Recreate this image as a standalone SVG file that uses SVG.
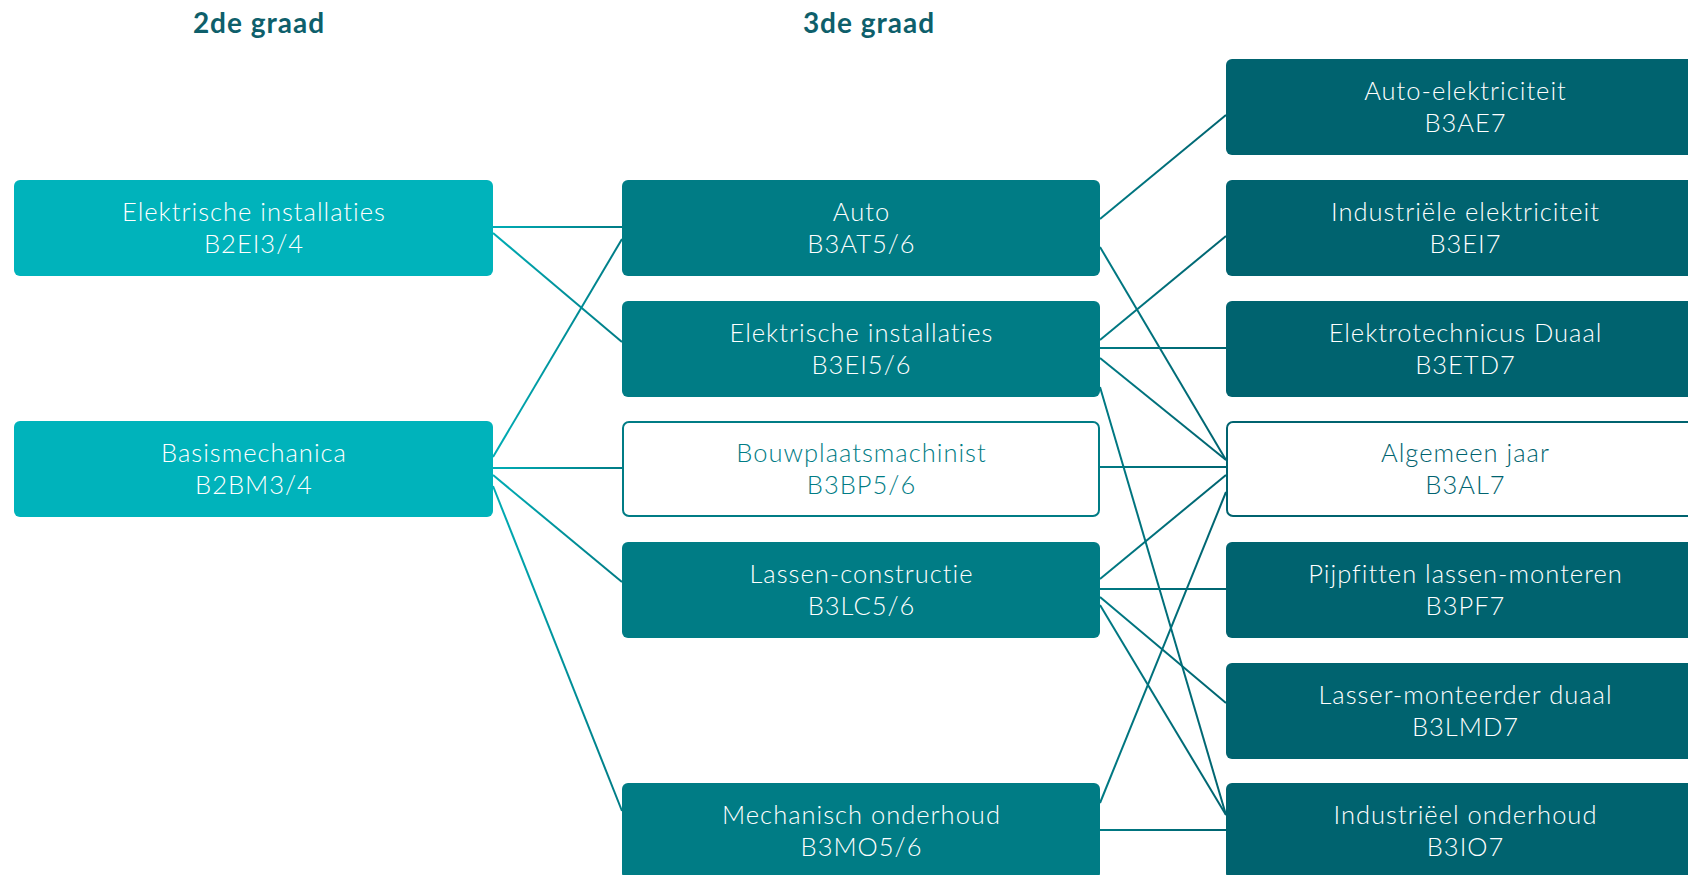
<svg xmlns="http://www.w3.org/2000/svg" width="1688" height="875" viewBox="0 0 1688 875">
<defs>
<linearGradient id="gL" gradientUnits="userSpaceOnUse" x1="493" y1="0" x2="622" y2="0">
<stop offset="0" stop-color="#00adb5"/><stop offset="1" stop-color="#007b85"/>
</linearGradient>
<linearGradient id="gR" gradientUnits="userSpaceOnUse" x1="1100" y1="0" x2="1226" y2="0">
<stop offset="0" stop-color="#007a84"/><stop offset="1" stop-color="#006470"/>
</linearGradient>
<style>
.hdr{font-family:Lato,"Noto Sans",sans-serif;font-weight:700;font-size:28px;letter-spacing:1px;fill:#0e5f6b;text-anchor:middle}
.t{font-family:Lato,"Noto Sans",sans-serif;font-weight:300;font-size:25.5px;letter-spacing:1px;text-anchor:middle;fill:#ffffff}
.l{fill:#00b3bb}
.m{fill:#007c85}
.r{fill:#00636f}
.wm{fill:#ffffff;stroke:#007c85;stroke-width:2}
.wr{fill:#ffffff;stroke:#00636f;stroke-width:2}
.tm{fill:#007c85}
.tr{fill:#00636f}
.cl{stroke:url(#gL);stroke-width:2;fill:none}
.cr{stroke:url(#gR);stroke-width:2;fill:none}
</style>
</defs>
<rect width="1688" height="875" fill="#ffffff"/>
<text class="hdr" x="259" y="33">2de graad</text>
<text class="hdr" x="869" y="33">3de graad</text>
<g id="connectors">
<line class="cl" x1="493" y1="227" x2="622" y2="227"/>
<line class="cl" x1="493" y1="233" x2="622" y2="342"/>
<line class="cl" x1="493" y1="457" x2="622" y2="239"/>
<line class="cl" x1="493" y1="468" x2="622" y2="468"/>
<line class="cl" x1="493" y1="475" x2="622" y2="582"/>
<line class="cl" x1="493" y1="486" x2="622" y2="811"/>
<line class="cr" x1="1100" y1="219" x2="1226" y2="115"/>
<line class="cr" x1="1100" y1="247" x2="1226" y2="460"/>
<line class="cr" x1="1100" y1="340" x2="1226" y2="236"/>
<line class="cr" x1="1100" y1="348" x2="1226" y2="348"/>
<line class="cr" x1="1100" y1="358" x2="1226" y2="460"/>
<line class="cr" x1="1100" y1="387" x2="1226" y2="815"/>
<line class="cr" x1="1100" y1="467" x2="1226" y2="467"/>
<line class="cr" x1="1100" y1="579" x2="1226" y2="475"/>
<line class="cr" x1="1100" y1="589" x2="1226" y2="589"/>
<line class="cr" x1="1100" y1="597" x2="1226" y2="703"/>
<line class="cr" x1="1100" y1="605" x2="1226" y2="815"/>
<line class="cr" x1="1100" y1="803" x2="1226" y2="492"/>
<line class="cr" x1="1100" y1="830" x2="1226" y2="830"/>
</g>
<g id="n-b2ei"><rect class="l" x="14" y="180" width="479" height="96" rx="6"/><text class="t" x="254" y="221">Elektrische installaties</text><text class="t" x="254" y="253">B2EI3/4</text></g>
<g id="n-b2bm"><rect class="l" x="14" y="421" width="479" height="96" rx="6"/><text class="t" x="254" y="462">Basismechanica</text><text class="t" x="254" y="494">B2BM3/4</text></g>
<g id="n-b3at"><rect class="m" x="622" y="180" width="478" height="96" rx="6"/><text class="t" x="861.5" y="221">Auto</text><text class="t" x="861.5" y="253">B3AT5/6</text></g>
<g id="n-b3ei"><rect class="m" x="622" y="301" width="478" height="96" rx="6"/><text class="t" x="861.5" y="342">Elektrische installaties</text><text class="t" x="861.5" y="374">B3EI5/6</text></g>
<g id="n-b3bp"><rect class="wm" x="623" y="422" width="476" height="94" rx="6"/><text class="t tm" x="861.5" y="462">Bouwplaatsmachinist</text><text class="t tm" x="861.5" y="494">B3BP5/6</text></g>
<g id="n-b3lc"><rect class="m" x="622" y="542" width="478" height="96" rx="6"/><text class="t" x="861.5" y="583">Lassen-constructie</text><text class="t" x="861.5" y="615">B3LC5/6</text></g>
<g id="n-b3mo"><rect class="m" x="622" y="783" width="478" height="96" rx="6"/><text class="t" x="861.5" y="824">Mechanisch onderhoud</text><text class="t" x="861.5" y="856">B3MO5/6</text></g>
<g id="n-b3ae"><rect class="r" x="1226" y="59" width="478" height="96" rx="6"/><text class="t" x="1465.5" y="100">Auto-elektriciteit</text><text class="t" x="1465.5" y="132">B3AE7</text></g>
<g id="n-b3ei7"><rect class="r" x="1226" y="180" width="478" height="96" rx="6"/><text class="t" x="1465.5" y="221">Industriële elektriciteit</text><text class="t" x="1465.5" y="253">B3EI7</text></g>
<g id="n-b3etd"><rect class="r" x="1226" y="301" width="478" height="96" rx="6"/><text class="t" x="1465.5" y="342">Elektrotechnicus Duaal</text><text class="t" x="1465.5" y="374">B3ETD7</text></g>
<g id="n-b3al"><rect class="wr" x="1227" y="422" width="476" height="94" rx="6"/><text class="t tr" x="1465.5" y="462">Algemeen jaar</text><text class="t tr" x="1465.5" y="494">B3AL7</text></g>
<g id="n-b3pf"><rect class="r" x="1226" y="542" width="478" height="96" rx="6"/><text class="t" x="1465.5" y="583">Pijpfitten lassen-monteren</text><text class="t" x="1465.5" y="615">B3PF7</text></g>
<g id="n-b3lmd"><rect class="r" x="1226" y="663" width="478" height="96" rx="6"/><text class="t" x="1465.5" y="704">Lasser-monteerder duaal</text><text class="t" x="1465.5" y="736">B3LMD7</text></g>
<g id="n-b3io"><rect class="r" x="1226" y="783" width="478" height="96" rx="6"/><text class="t" x="1465.5" y="824">Industriëel onderhoud</text><text class="t" x="1465.5" y="856">B3IO7</text></g>
</svg>
